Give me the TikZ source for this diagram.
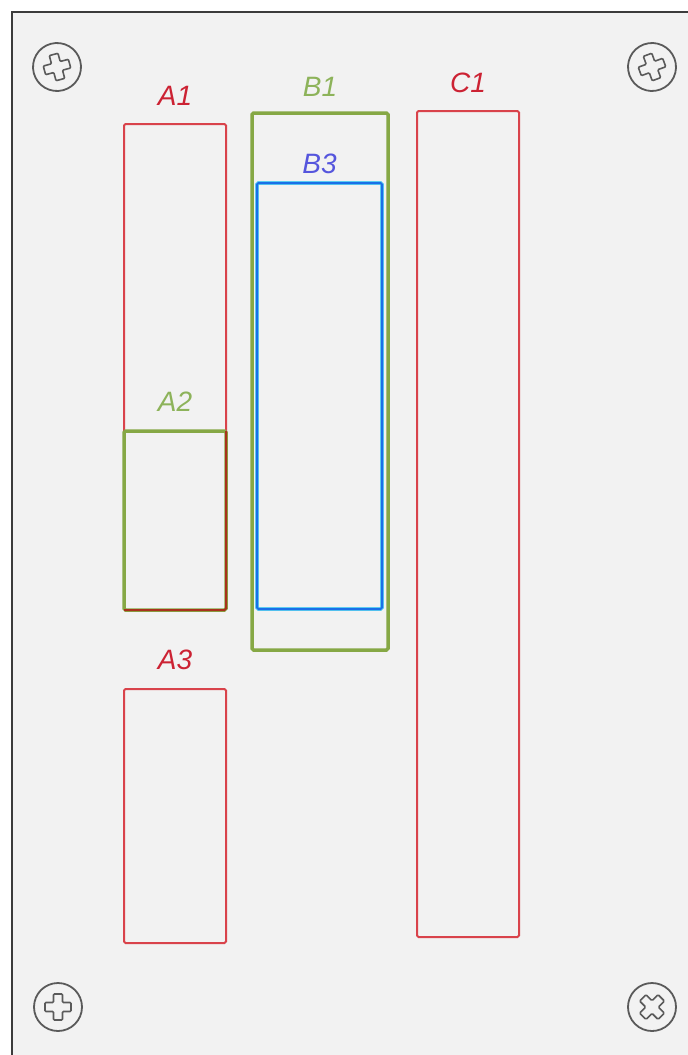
\documentclass[tikz,border=0pt]{standalone}
\usepackage{fontspec}
\setmainfont{Liberation Sans}
\usetikzlibrary{positioning}

\definecolor{panelfill}{HTML}{F2F2F2}
\definecolor{panelline}{HTML}{3C3C3C}
\definecolor{screwgray}{HTML}{5A5A5A}
\definecolor{slotred}{HTML}{D9434B}
\definecolor{labelred}{HTML}{CC2233}
\definecolor{slotgreen}{HTML}{86A845}
\definecolor{labelgreen}{HTML}{8DB35A}
\definecolor{darkred}{HTML}{A8321C}
\definecolor{slotblue}{HTML}{1A6FE8}
\definecolor{glowcyan}{HTML}{5CCCF0}
\definecolor{labelblue}{HTML}{5555DD}

\begin{document}
\begin{tikzpicture}[x=1pt, y=-1pt,
        slot/.style={rectangle, draw, rounded corners=1.5pt, inner sep=0pt, outer sep=0pt, line width=2pt},
        redslot/.style={slot, draw=slotred},
        greenslot/.style={slot, draw=slotgreen, line width=3.5pt},
        blueslot/.style={slot, draw=glowcyan, double=slotblue, double distance=2pt, line width=0.9pt},
        lbl/.style={font=\itshape\fontsize{28}{28}\selectfont, inner sep=0pt},
        screw/.pic={
            \draw[screwgray, line width=1.8pt] (0,0) circle[radius=24];
            \draw[screwgray, line width=1.6pt, rounded corners=1pt] (-4.5,-13) -- (4.5,-13) -- (4.5,-4.5) -- (13,-4.5) -- (13,4.5) -- (4.5,4.5) -- (4.5,13) -- (-4.5,13) -- (-4.5,4.5) -- (-13,4.5) -- (-13,-4.5) -- (-4.5,-4.5) -- cycle;
        }]

    \useasboundingbox (0,0) rectangle (688,1055);
    \clip (0,0) rectangle (688,1055);

    % Panel
    \draw[fill=panelfill, draw=panelline, line width=2.2pt] (12,12) rectangle (730,1100);

    % Screws
    \pic[rotate=15] at (57,67) {screw};
    \pic[rotate=20] at (652,67) {screw};
    \pic at (58,1007) {screw};
    \pic[rotate=45] at (652,1007) {screw};

    % Column A
    \node[redslot, minimum width=102pt, minimum height=486pt] (A1) at (175,367) {};
    \node[greenslot, minimum width=102pt, minimum height=179pt] (A2) at (175,520.5) {};
    \draw[darkred, line width=2pt, rounded corners=1.5pt] (A2.north east) -- (A2.south east) -- (A2.south west);
    \node[redslot, minimum width=102pt, minimum height=254pt] (A3) at (175,816) {};

    % Column B
    \node[greenslot, minimum width=136pt, minimum height=537pt] (B1) at (320,381.5) {};
    \node[blueslot, minimum width=125pt, minimum height=426pt] (B3) at (319.5,396) {};

    % Column C
    \node[redslot, minimum width=102pt, minimum height=826pt] (C1) at (468,524) {};

    % Labels
    \node[lbl, text=labelred, above=18pt of A1] (A1-lbl) {A1};
    \node[lbl, text=labelgreen, above=19pt of A2] (A2-lbl) {A2};
    \node[lbl, text=labelred, above=19pt of A3] (A3-lbl) {A3};
    \node[lbl, text=labelgreen, above=16pt of B1] (B1-lbl) {B1};
    \node[lbl, text=labelblue, above=9pt of B3] (B3-lbl) {B3};
    \node[lbl, text=labelred, above=18pt of C1] (C1-lbl) {C1};

\end{tikzpicture}
\end{document}
